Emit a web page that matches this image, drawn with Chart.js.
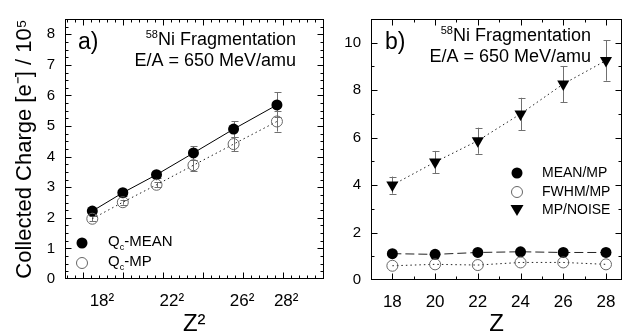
<!DOCTYPE html>
<html>
<head>
<meta charset="utf-8">
<title>Collected charge vs Z</title>
<script src="https://cdn.jsdelivr.net/npm/chart.js@4.4.1/dist/chart.umd.min.js"></script>
<style>
  html, body { margin: 0; padding: 0; background: #fff; }
  body { position: relative; width: 629px; height: 335px; overflow: hidden; }
  canvas { position: absolute; top: 0; }
  #chart-a { left: 0; }
  #chart-b { left: 330px; }
</style>
</head>
<body>
<canvas id="chart-a" width="330" height="335"></canvas>
<canvas id="chart-b" width="299" height="335"></canvas>
<script>
// ── Data ─────────────────────────────────────────────────────────────────────
const Z            = [18, 20, 22, 24, 26, 28];
const Z_SQ         = [324, 400, 484, 576, 676, 784];

// panel a) collected charge / 1e5
const QC_MEAN      = [2.22, 2.82, 3.41, 4.12, 4.90, 5.69];
const QC_MEAN_ERR  = [0.10, 0.10, 0.10, 0.22, 0.26, 0.41];
const QC_MP        = [1.97, 2.51, 3.08, 3.72, 4.41, 5.15];
const QC_MP_ERR    = [0.08, 0.08, 0.08, 0.18, 0.24, 0.33];

// panel b) ratios
const MEAN_MP      = [1.11, 1.08, 1.16, 1.19, 1.16, 1.16];
const FWHM_MP      = [0.60, 0.66, 0.63, 0.74, 0.74, 0.66];
const MP_NOISE     = [4.00, 4.97, 5.87, 7.00, 8.26, 9.25];
const MP_NOISE_ERR = [0.36, 0.47, 0.55, 0.68, 0.76, 0.85];

// ── Ticks ────────────────────────────────────────────────────────────────────
const A_X_LABEL_AT = [348, 522, 697, 807];
const A_X_LABELS   = ['18²', '22²', '26²', '28²'];
const A_X_MAJOR    = [300, 400, 500, 600, 700, 800, 900];
const A_Y_TICKS    = [0, 1, 2, 3, 4, 5, 6, 7, 8];
const B_X_TICKS    = [18, 20, 22, 24, 26, 28];
const B_Y_TICKS    = [0, 2, 4, 6, 8, 10];

const FONT = '"Liberation Sans", Arial, Helvetica, sans-serif';
Chart.defaults.font.family = FONT;
Chart.defaults.color = '#000';

const pts = (xs, ys) => xs.map((x, i) => ({ x, y: ys[i] }));

// ── Plugins ──────────────────────────────────────────────────────────────────
// frame with inward ticks on all four sides
const frameTicks = {
  id: 'frameTicks',
  afterDraw(chart, args, o) {
    const { ctx, chartArea: a, scales: { x, y } } = chart;
    const L = Math.round(a.left) + .5, R = Math.round(a.right) - .5;
    const T = Math.round(a.top) + .5, B = Math.round(a.bottom) - .5;
    ctx.save();
    ctx.strokeStyle = '#000';
    ctx.lineWidth = 1;
    ctx.strokeRect(L, T, R - L, B - T);
    ctx.beginPath();
    const xTick = (v, len) => {
      const p = Math.round(x.getPixelForValue(v)) + .5;
      if (p < L + 1 || p > R - 1) return;
      ctx.moveTo(p, B); ctx.lineTo(p, B - len);
      ctx.moveTo(p, T); ctx.lineTo(p, T + len);
    };
    const yTick = (v, len) => {
      const p = Math.round(y.getPixelForValue(v)) + .5;
      if (p < T + 1 || p > B - 1) return;
      ctx.moveTo(L, p); ctx.lineTo(L + len, p);
      ctx.moveTo(R, p); ctx.lineTo(R - len, p);
    };
    for (let v = o.xMin; v <= x.max; v += o.xMinor) xTick(v, 3);
    for (let v = o.yMin; v <= y.max; v += o.yMinor) yTick(v, 3);
    o.xMajor.forEach(v => xTick(v, 6));
    o.yMajor.forEach(v => yTick(v, 6));
    ctx.stroke();
    ctx.restore();
  },
};

// vertical error bars from dataset.errors
const errorBars = {
  id: 'errorBars',
  beforeDatasetsDraw(chart) {
    const { ctx, scales: { y } } = chart;
    ctx.save();
    ctx.strokeStyle = '#707070';
    ctx.lineWidth = 1;
    chart.data.datasets.forEach((ds, i) => {
      if (!ds.errors) return;
      chart.getDatasetMeta(i).data.forEach((pt, j) => {
        const v = ds.data[j].y, e = ds.errors[j];
        const px = Math.round(pt.x) + .5;
        const y1 = y.getPixelForValue(v + e), y2 = y.getPixelForValue(v - e);
        ctx.beginPath();
        ctx.moveTo(px, y1); ctx.lineTo(px, y2);
        ctx.moveTo(px - 3, Math.round(y1) + .5); ctx.lineTo(px + 4, Math.round(y1) + .5);
        ctx.moveTo(px - 3, Math.round(y2) + .5); ctx.lineTo(px + 4, Math.round(y2) + .5);
        ctx.stroke();
      });
    });
    ctx.restore();
  },
};

function marker(ctx, kind, x, y) {
  ctx.beginPath();
  if (kind === 'tri') {
    ctx.moveTo(x - 6.5, y - 5); ctx.lineTo(x + 6.5, y - 5); ctx.lineTo(x, y + 6);
    ctx.closePath();
    ctx.fillStyle = '#000'; ctx.fill();
  } else {
    ctx.arc(x, y, 5.5, 0, Math.PI * 2);
    if (kind === 'fill') { ctx.fillStyle = '#000'; ctx.fill(); }
    else { ctx.strokeStyle = '#666'; ctx.lineWidth = 1; ctx.stroke(); }
  }
}

// panel letter, header and legend
const notes = {
  id: 'notes',
  afterDraw(chart, args, o) {
    const ctx = chart.ctx;
    ctx.save();
    ctx.fillStyle = '#000';
    ctx.textBaseline = 'middle';
    ctx.textAlign = 'left';
    ctx.font = '23px ' + FONT;
    ctx.fillText(o.panel, o.panelX, 43);

    // header, right aligned
    ctx.textAlign = 'right';
    ctx.font = '18px ' + FONT;
    ctx.fillText('Ni Fragmentation', o.headX, o.headY[0]);
    const w = ctx.measureText('Ni Fragmentation').width;
    ctx.font = '11px ' + FONT;
    ctx.fillText('58', o.headX - w, o.headY[0] - 5);
    ctx.font = '18px ' + FONT;
    ctx.fillText('E/A = 650 MeV/amu', o.headX, o.headY[1]);

    // legend
    ctx.textAlign = 'left';
    o.legend.forEach(it => {
      marker(ctx, it.kind, o.legX, it.y);
      ctx.fillStyle = '#000';
      let tx = o.textX;
      ctx.font = o.legFont + 'px ' + FONT;
      if (it.sub) {
        ctx.fillText('Q', tx, it.y - 1);
        tx += ctx.measureText('Q').width;
        ctx.font = '9px ' + FONT;
        ctx.fillText('c', tx, it.y + 5);
        tx += ctx.measureText('c').width;
        ctx.font = o.legFont + 'px ' + FONT;
      }
      ctx.fillText(it.text, tx, it.y - (it.sub ? 1 : 0));
    });
    ctx.restore();
  },
};

// ── Shared pieces ────────────────────────────────────────────────────────────
const hideGrid = { display: false, drawTicks: false };
const fixTicks = list => s => { s.ticks = list.map(v => ({ value: v })); };

function baseOptions(padding) {
  return {
    responsive: false,
    animation: false,
    devicePixelRatio: 1,
    layout: { padding },
    plugins: { legend: { display: false }, tooltip: { enabled: false } },
  };
}

// ── Panel a ──────────────────────────────────────────────────────────────────
new Chart(document.getElementById('chart-a'), {
  type: 'scatter',
  data: {
    datasets: [
      {
        data: pts(Z_SQ, QC_MP), errors: QC_MP_ERR, showLine: true,
        borderColor: '#222', borderWidth: 1, borderDash: [1.5, 3],
        pointRadius: 5.5, pointBackgroundColor: 'rgba(0,0,0,0)',
        pointBorderColor: '#666', pointBorderWidth: 1,
      },
      {
        data: pts(Z_SQ, QC_MEAN), errors: QC_MEAN_ERR, showLine: true,
        borderColor: '#000', borderWidth: 1,
        pointRadius: 5.5, pointBackgroundColor: '#000', pointBorderWidth: 0,
      },
    ],
  },
  options: {
    ...baseOptions({ top: 19, right: 3, left: 0, bottom: 0 }),
    scales: {
      x: {
        type: 'linear', min: 256, max: 900,
        afterBuildTicks: fixTicks(A_X_LABEL_AT),
        afterFit: s => { s.height = 56; },
        grid: hideGrid, border: { display: false },
        ticks: {
          autoSkip: false, maxRotation: 0, padding: 12, color: '#000',
          font: { size: 17 }, callback: (v, i) => A_X_LABELS[i],
        },
        title: { display: true, text: 'Z²', color: '#000', font: { size: 24, lineHeight: 0.85 }, padding: 0 },
      },
      y: {
        type: 'linear', min: 0, max: 8.5,
        afterBuildTicks: fixTicks(A_Y_TICKS),
        afterFit: s => { s.width = 65; },
        grid: hideGrid, border: { display: false },
        ticks: { padding: 10, color: '#000', font: { size: 15 } },
        title: {
          display: true, text: 'Collected Charge [e⁻] / 10⁵', color: '#000',
          font: { size: 22 }, padding: { top: 12, bottom: 0 },
        },
      },
    },
    plugins: {
      legend: { display: false }, tooltip: { enabled: false },
      frameTicks: { xMajor: A_X_MAJOR, yMajor: A_Y_TICKS, xMin: 260, xMinor: 20, yMin: 0, yMinor: 0.25 },
      notes: {
        panel: 'a)', panelX: 78, headX: 296, headY: [40, 61.5],
        legX: 82, textX: 108, legFont: 15,
        legend: [
          { kind: 'fill', y: 243, text: '-MEAN', sub: true },
          { kind: 'open', y: 263, text: '-MP', sub: true },
        ],
      },
    },
  },
  plugins: [errorBars, frameTicks, notes],
});

// ── Panel b ──────────────────────────────────────────────────────────────────
new Chart(document.getElementById('chart-b'), {
  type: 'scatter',
  data: {
    datasets: [
      {
        data: pts(Z, FWHM_MP), showLine: true,
        borderColor: '#222', borderWidth: 1, borderDash: [1.5, 3],
        pointRadius: 5.5, pointBackgroundColor: 'rgba(0,0,0,0)',
        pointBorderColor: '#666', pointBorderWidth: 1,
      },
      {
        data: pts(Z, MEAN_MP), showLine: true,
        borderColor: '#222', borderWidth: 1, borderDash: [9, 4],
        pointRadius: 5.5, pointBackgroundColor: '#000', pointBorderWidth: 0,
      },
      {
        data: pts(Z, MP_NOISE), errors: MP_NOISE_ERR, showLine: true,
        borderColor: '#222', borderWidth: 1, borderDash: [1.5, 3],
        pointStyle: 'triangle', rotation: 180, pointRadius: 7,
        pointBackgroundColor: '#000', pointBorderWidth: 0,
      },
    ],
  },
  options: {
    ...baseOptions({ top: 18, right: 1, left: 0, bottom: 0 }),
    scales: {
      x: {
        type: 'linear', min: 17, max: 28.75,
        afterBuildTicks: fixTicks(B_X_TICKS),
        afterFit: s => { s.height = 55; },
        grid: hideGrid, border: { display: false },
        ticks: { autoSkip: false, maxRotation: 0, padding: 12, color: '#000', font: { size: 17 } },
        title: { display: true, text: 'Z', color: '#000', font: { size: 24, lineHeight: 0.85 }, padding: 0 },
      },
      y: {
        type: 'linear', min: 0, max: 11,
        afterBuildTicks: fixTicks(B_Y_TICKS),
        afterFit: s => { s.width = 41; },
        grid: hideGrid, border: { display: false },
        ticks: { padding: 10, color: '#000', font: { size: 15 } },
      },
    },
    plugins: {
      legend: { display: false }, tooltip: { enabled: false },
      frameTicks: { xMajor: B_X_TICKS, yMajor: B_Y_TICKS, xMin: 17, xMinor: 1, yMin: 1, yMinor: 2 },
      notes: {
        panel: 'b)', panelX: 55, headX: 261, headY: [36, 57],
        legX: 187, textX: 212, legFont: 14,
        legend: [
          { kind: 'fill', y: 173, text: 'MEAN/MP' },
          { kind: 'open', y: 192, text: 'FWHM/MP' },
          { kind: 'tri', y: 210, text: 'MP/NOISE' },
        ],
      },
    },
  },
  plugins: [errorBars, frameTicks, notes],
});
</script>
</body>
</html>
